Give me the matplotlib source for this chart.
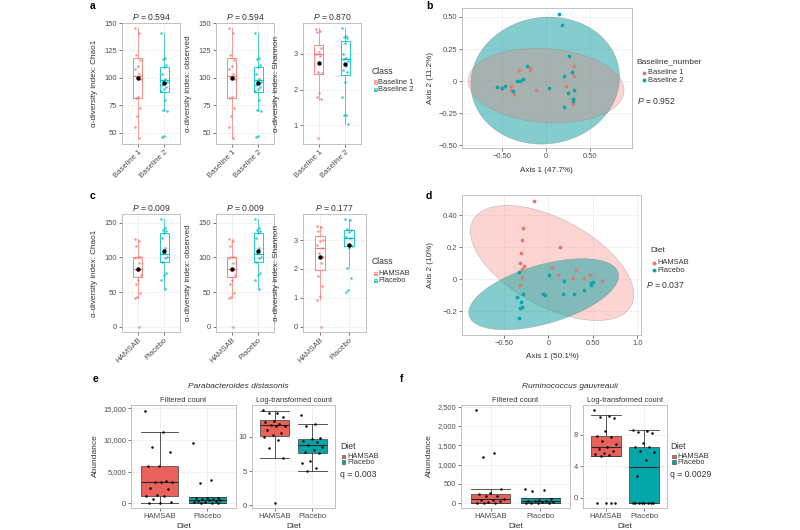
import numpy as np
import matplotlib
matplotlib.use("Agg")
import matplotlib.pyplot as plt
from matplotlib.patches import Rectangle, Polygon

plt.rcParams["font.family"] = ["Liberation Sans", "DejaVu Sans"]
plt.rcParams["mathtext.fontset"] = "custom"
plt.rcParams["mathtext.it"] = "Liberation Sans:italic"
plt.rcParams["mathtext.rm"] = "Liberation Sans"

RED = "#F8766D"
TEAL = "#00BFC4"
RED_PT = "#E07A72"
TEAL_PT = "#0FA6A9"
TEAL_ELL = "#1FA3A6"
RED_FILL = "#E8615B"
TEAL_FILL = "#05A6A8"
TXT = "#333333"
TICK = "#4d4d4d"

# ---- panel a: alpha diversity, baseline 1 vs baseline 2
base_groups = ["Baseline 1", "Baseline 2"]
a_chao_b1 = [145, 141, 121, 116, 111, 108, 104, 101, 99, 83, 82, 73, 65, 55, 45]
a_chao_b2 = [141, 118, 117, 112, 110, 104, 99, 97, 96, 95, 94, 92, 90, 88, 80, 71, 70, 47, 46]
a_chao_box = [(45, 82, 102, 118, 145), (70, 87, 98, 110, 141)]  # whislo, q1, med, q3, whishi
a_chao_mean = [100, 95]
a_shan_b1 = [3.70, 3.65, 3.60, 3.15, 3.05, 3.00, 2.95, 2.50, 2.45, 1.90, 1.80, 1.75, 0.64]
a_shan_b2 = [3.71, 3.50, 3.48, 3.45, 3.30, 3.00, 2.88, 2.85, 2.80, 2.65, 2.55, 2.50, 2.20, 1.80, 1.30, 1.30, 1.05]
a_shan_box = [(1.72, 2.43, 2.99, 3.25, 3.71), (1.03, 2.42, 2.85, 3.36, 3.71)]
a_shan_mean = [2.73, 2.71]
a_pvals = ["0.594", "0.594", "0.870"]

# ---- panel c: alpha diversity, HAMSAB vs placebo
diet_groups = ["HAMSAB", "Placebo"]
c_chao_ham = [127, 124, 116, 101, 100, 99, 92, 82, 75, 68, 61, 49, 43, 42, 0]
c_chao_pla = [155, 142, 140, 138, 135, 128, 113, 106, 101, 99, 94, 78, 75, 67, 55]
c_chao_box = [(42, 72, 83, 100, 127), (55, 93, 105, 135, 155)]
c_chao_mean = [83, 110]
c_shan_ham = [3.49, 3.44, 3.31, 3.02, 2.98, 2.83, 2.71, 2.54, 2.43, 2.20, 1.74, 1.40, 1.05, 0.94, 0.0]
c_shan_pla = [3.72, 3.69, 3.40, 3.35, 3.29, 3.12, 3.06, 2.83, 2.80, 2.71, 2.05, 1.70, 1.26, 1.20]
c_shan_box = [(0.94, 1.98, 2.71, 3.13, 3.49), (2.05, 2.79, 3.06, 3.36, 3.72)]
c_shan_mean = [2.43, 2.83]
c_pvals = ["0.009", "0.009", "0.177"]

# ---- panel b: PCoA baseline
b_b1_x = [-0.31, -0.18, -0.18, 0.31, 0.32, 0.23, -0.40, -0.40, -0.36, -0.11, 0.30, 0.30, 0.30, -0.51]
b_b1_y = [0.085, 0.10, 0.085, 0.115, 0.04, -0.04, -0.04, -0.065, -0.10, -0.07, -0.16, -0.175, -0.14, -0.05]
b_b2_x = [0.15, 0.18, 0.26, -0.22, 0.29, 0.20, -0.26, -0.33, -0.29, -0.55, -0.50, -0.46, -0.37, 0.03,
          0.32, 0.25, 0.30, 0.30, 0.20]
b_b2_y = [0.52, 0.44, 0.20, 0.12, 0.07, 0.04, 0.015, 0.0, 0.0, -0.045, -0.05, -0.04, -0.075, -0.05,
          -0.07, -0.09, -0.135, -0.155, -0.20]
# ellipse: centre x, centre y, conjugate semi-axes (ux, uy), (vx, vy)
b_ell_b1 = (0.0, -0.035, 0.88, -0.035, 0.0, 0.288)
b_ell_b2 = (-0.01, 0.005, 0.84, 0.025, 0.0, 0.494)

# ---- panel d: PCoA diet
d_ham_x = [-0.158, -0.28, -0.30, -0.31, 0.13, -0.32, -0.27, -0.30, 0.045, 0.31, 0.105, -0.30, 0.28,
           0.395, 0.47, 0.60, -0.32]
d_ham_y = [0.49, 0.32, 0.245, 0.16, 0.20, 0.10, 0.083, 0.0625, 0.073, 0.054, 0.023, 0.01, 0.006,
           0.006, 0.027, -0.01, -0.04]
d_pla_x = [-0.33, 0.004, 0.177, 0.50, 0.48, 0.48, -0.29, -0.35, -0.056, -0.038, 0.16, 0.29, 0.40,
           -0.31, -0.30, -0.32, -0.33]
d_pla_y = [0.044, 0.027, -0.015, -0.019, -0.025, -0.04, -0.094, -0.11, -0.092, -0.10, -0.094, -0.094,
           -0.067, -0.144, -0.175, -0.18, -0.244]
d_ell_ham = (0.042, 0.10, 0.918, -0.198, 0.0, 0.30)
d_ell_pla = (-0.053, -0.095, 0.842, 0.115, 0.0, 0.19)

# ---- panel e: Parabacteroides distasonis
e_filt_ham = [14600, 11300, 8800, 8050, 5900, 5850, 3500, 3420, 3400, 3350, 2350, 2200, 1250, 1200,
              1150, 700, 280, 100, 0]
e_filt_pla = [9550, 3650, 3250, 900, 850, 780, 700, 620, 550, 480, 400, 330, 250, 180, 120, 60, 30]
e_filt_box = [(0, 1150, 3300, 5900, 11300), (30, 100, 520, 940, 940)]
e_log_ham = [13.9, 13.5, 13.4, 12.8, 12.3, 12.2, 11.8, 11.7, 11.6, 11.5, 11.0, 10.5, 10.2, 10.0, 9.5,
             8.4, 6.9, 0.3]
e_log_pla = [13.2, 11.8, 11.6, 9.8, 9.6, 9.4, 9.2, 8.8, 8.5, 8.0, 7.7, 7.6, 6.5, 6.2, 5.5, 5.0]
e_log_box = [(6.9, 10.1, 11.65, 12.4, 13.8), (5.0, 7.6, 8.8, 9.6, 11.8)]

# ---- panel f: Ruminococcus gauvreauii
f_filt_ham = [2420, 1300, 1200, 370, 260, 250, 200, 180, 100, 90, 80, 60, 40, 20, 10, 0]
f_filt_pla = [360, 340, 330, 110, 90, 70, 60, 50, 40, 30, 20, 10, 5, 0]
f_filt_box = [(0, 15, 105, 240, 365), (0, 15, 65, 135, 135)]
f_log_ham = [11.2, 10.4, 10.3, 10.2, 8.5, 7.8, 7.7, 7.2, 6.8, 6.4, 6.2, 6.0, 5.7, 5.6, 5.5, 5.3,
             -0.7, -0.7, -0.7, -0.7]
f_log_pla = [8.6, 8.5, 8.4, 8.3, 7.0, 6.5, 6.4, 6.0, 5.8, 4.8, 2.8, -0.7, -0.7, -0.7, -0.7, -0.7,
             -0.7, -0.7, -0.7]
f_log_box = [(5.3, 5.3, 6.4, 7.9, 10.5), (-0.7, -0.7, 3.87, 6.4, 8.56)]

W, H = 800, 530
fig = plt.figure(figsize=(8, 5.3), dpi=100)


def add_ax(l, t, r, b):
    return fig.add_axes([l / W, 1 - b / H, (r - l) / W, (b - t) / H])


def style(ax):
    for s in ax.spines.values():
        s.set_color("#b8b8b8")
        s.set_linewidth(0.6)
    ax.grid(True, color="#ececec", lw=0.5)
    ax.set_axisbelow(True)
    ax.tick_params(length=2, width=0.5, color="#444444", labelsize=5.4, labelcolor=TICK, pad=1.5)


def jitter(n, w):
    # golden-ratio spread so the dots do not stack on one line
    return ((np.arange(n) * 0.618034) % 1 - 0.5) * 2 * w


def box_stats(bx):
    lo, q1, med, q3, hi = bx
    return dict(whislo=lo, q1=q1, med=med, q3=q3, whishi=hi, fliers=[])


def alpha_box(ax, groups, boxes, means, colors, labels, ylim, yticks):
    for i, (vals, bx, m, c) in enumerate(zip(groups, boxes, means, colors)):
        ax.bxp([box_stats(bx)], positions=[i + 1], widths=0.34, showfliers=False, showcaps=False,
               boxprops=dict(color=c, lw=0.6), whiskerprops=dict(color=c, lw=0.6, alpha=0.8),
               medianprops=dict(color=c, lw=0.8), manage_ticks=False)
        ax.scatter(i + 1 + jitter(len(vals), 0.12), vals, s=3.5, color=c, alpha=0.75, lw=0, zorder=3)
        ax.scatter([i + 1], [m], s=10, color="black", lw=0, zorder=4)
    style(ax)
    ax.set_xlim(0.4, 2.6)
    ax.set_ylim(*ylim)
    ax.set_yticks(yticks)
    ax.set_xticks([1, 2])
    ax.set_xticklabels(labels, rotation=45, ha="right", rotation_mode="anchor", fontsize=5.6)


def pcoa(ax, xs_list, ys_list, ells, colors, pt_colors, alphas):
    t = np.linspace(0, 2 * np.pi, 240)
    for (cx, cy, ux, uy, vx, vy), c, a in zip(ells, colors, alphas):
        xy = np.column_stack([cx + ux * np.cos(t) + vx * np.sin(t), cy + uy * np.cos(t) + vy * np.sin(t)])
        ax.add_patch(Polygon(xy, closed=True, fc=c, alpha=a, ec="none"))
        ax.add_patch(Polygon(xy, closed=True, fill=False, ec="#8a8a8a", lw=0.35, alpha=0.6))
    for xs, ys, c in zip(xs_list, ys_list, pt_colors):
        ax.scatter(xs, ys, s=7.5, color=c, lw=0, zorder=3)
    style(ax)


def count_box(ax, groups, boxes, fills, ylim, yticks, yticklabels):
    for i, (vals, bx, fc) in enumerate(zip(groups, boxes, fills)):
        ax.bxp([box_stats(bx)], positions=[i + 1], widths=0.78, showfliers=False, patch_artist=True,
               boxprops=dict(facecolor=fc, edgecolor="#3a3a3a", lw=0.5),
               whiskerprops=dict(color="#3a3a3a", lw=0.6), capprops=dict(color="#3a3a3a", lw=0.6),
               capwidths=0.78, medianprops=dict(color="#2a2a2a", lw=0.8), manage_ticks=False)
        ax.scatter(i + 1 + jitter(len(vals), 0.3), vals, s=3.2, color="black", lw=0, zorder=4)
    style(ax)
    ax.set_xlim(0.4, 2.6)
    ax.set_ylim(*ylim)
    ax.set_yticks(yticks)
    ax.set_yticklabels(yticklabels)
    ax.set_xticks([1, 2])
    ax.set_xticklabels(diet_groups, fontsize=5.6)


# ---- build panels a and c
a_axes = [add_ax(122, 23, 180, 144), add_ax(216, 23, 274, 144), add_ax(303, 23, 361, 144)]
c_axes = [add_ax(122, 214, 180, 332), add_ax(216, 214, 274, 332), add_ax(303, 214, 366, 332)]
ylabels = ["α-diversity index: Chao1", "α-diversity index: observed", "α-diversity index: Shannon"]

alpha_box(a_axes[0], [a_chao_b1, a_chao_b2], a_chao_box, a_chao_mean, [RED, TEAL], base_groups,
          (40, 150), [50, 75, 100, 125, 150])
alpha_box(a_axes[1], [a_chao_b1, a_chao_b2], a_chao_box, a_chao_mean, [RED, TEAL], base_groups,
          (40, 150), [50, 75, 100, 125, 150])
alpha_box(a_axes[2], [a_shan_b1, a_shan_b2], a_shan_box, a_shan_mean, [RED, TEAL], base_groups,
          (0.48, 3.86), [1, 2, 3])
alpha_box(c_axes[0], [c_chao_ham, c_chao_pla], c_chao_box, c_chao_mean, [RED, TEAL], diet_groups,
          (-7.75, 162.75), [0, 50, 100, 150])
alpha_box(c_axes[1], [c_chao_ham, c_chao_pla], c_chao_box, c_chao_mean, [RED, TEAL], diet_groups,
          (-7.75, 162.75), [0, 50, 100, 150])
alpha_box(c_axes[2], [c_shan_ham, c_shan_pla], c_shan_box, c_shan_mean, [RED, TEAL], diet_groups,
          (-0.186, 3.906), [0, 1, 2, 3])

# ---- panels b and d
ax_b = add_ax(462, 8, 632, 148)
pcoa(ax_b, [b_b1_x, b_b2_x], [b_b1_y, b_b2_y], [b_ell_b2, b_ell_b1], [TEAL_ELL, RED], [RED_PT, TEAL_PT],
     [0.55, 0.3])
ax_b.set_xlim(-0.95, 0.97)
ax_b.set_ylim(-0.52, 0.57)
ax_b.set_xticks([-0.5, 0, 0.5])
ax_b.set_xticklabels(["\u22120.50", "0", "0.50"])
ax_b.set_yticks([-0.5, -0.25, 0, 0.25, 0.5])
ax_b.set_yticklabels(["\u22120.50", "\u22120.25", "0", "0.25", "0.50"])

ax_d = add_ax(462, 195, 641, 335)
pcoa(ax_d, [d_ham_x, d_pla_x], [d_ham_y, d_pla_y], [d_ell_ham, d_ell_pla], [RED, TEAL_ELL], [RED_PT, TEAL_PT],
     [0.3, 0.55])
ax_d.set_xlim(-0.97, 1.04)
ax_d.set_ylim(-0.35, 0.525)
ax_d.set_xticks([-0.5, 0, 0.5, 1.0])
ax_d.set_xticklabels(["\u22120.50", "0", "0.50", "1.0"])
ax_d.set_yticks([-0.2, 0, 0.2, 0.4])
ax_d.set_yticklabels(["\u22120.2", "0", "0.2", "0.40"])

# ---- panels e and f
ax_e1 = add_ax(131, 405, 236, 508)
count_box(ax_e1, [e_filt_ham, e_filt_pla], e_filt_box, [RED_FILL, TEAL_FILL], (-740, 15500),
          [0, 5000, 10000, 15000], ["0", "5,000", "10,000", "15,000"])
ax_e2 = add_ax(252, 405, 335, 508)
count_box(ax_e2, [e_log_ham, e_log_pla], e_log_box, [RED_FILL, TEAL_FILL], (-0.37, 14.6),
          [0, 5, 10], ["0", "5", "10"])
ax_f1 = add_ax(461, 405, 570, 508)
count_box(ax_f1, [f_filt_ham, f_filt_pla], f_filt_box, [RED_FILL, TEAL_FILL], (-121, 2541),
          [0, 500, 1000, 1500, 2000, 2500], ["0", "500", "1,000", "1,500", "2,000", "2,500"])
ax_f2 = add_ax(583, 405, 667, 508)
count_box(ax_f2, [f_log_ham, f_log_pla], f_log_box, [RED_FILL, TEAL_FILL], (-1.3, 11.8),
          [0, 4, 8], ["0", "4", "8"])

# ---- overlay for free text and legends (pixel coordinates)
ov = fig.add_axes([0, 0, 1, 1])
ov.set_xlim(0, W)
ov.set_ylim(H, 0)
ov.axis("off")


def txt(x, y, s, size=5.8, **kw):
    kw.setdefault("color", TXT)
    ov.text(x, y, s, fontsize=size, va="center", **kw)


for lab, (x, y) in zip("abcdef", [(90, 6), (426, 6), (90, 196), (426, 196), (93, 379), (400, 379)]):
    txt(x, y, lab, size=7.5, weight="bold", color="black")

for axs, pv, yl in [(a_axes, a_pvals, 83.5), (c_axes, c_pvals, 273)]:
    for ax, p, ylab in zip(axs, pv, ylabels):
        l, b, w, h = ax.get_position().bounds
        cx = (l + w / 2) * W
        top = (1 - (b + h)) * H
        txt(cx, top - 6, "$P$ = " + p, size=6.2, ha="center")
        txt(l * W - 27, yl, ylab, size=5.9, ha="center", rotation=90)

# legends a / c
for (ty, ys, labels) in [(72, [82, 89.5], base_groups), (262, [273.5, 280.5], diet_groups)]:
    txt(372, ty, "Class", size=6.2)
    for yy, lab, c in zip(ys, labels, [RED, TEAL]):
        ov.add_patch(Rectangle((373.5, yy - 1.7), 3.4, 3.4, fill=False, ec=c, lw=0.5))
        ov.plot([373.5, 376.9], [yy, yy], color=c, lw=0.5)
        ov.scatter([375.2], [yy], s=1.5, color=c, lw=0)
        txt(378, yy, lab, size=5.4)

# legend b
txt(636, 62, "Baseline_number", size=6.0)
for yy, lab, c in zip([73, 80], base_groups, [RED_PT, TEAL_PT]):
    ov.scatter([643.5], [yy], s=8, color=c, lw=0)
    txt(647.5, yy, lab, size=5.4)
txt(637, 101, "$P$ = 0.952", size=6.2)
txt(431, 78, "Axis 2 (11.2%)", size=5.9, ha="center", rotation=90)
txt(546, 170.5, "Axis 1 (47.7%)", size=5.9, ha="center")

# legend d
txt(650, 250, "Diet", size=6.0)
for yy, lab, c in zip([262.5, 270], diet_groups, [RED_PT, TEAL_PT]):
    ov.scatter([653.5], [yy], s=8, color=c, lw=0)
    txt(657.5, yy, lab, size=5.4)
txt(646, 285, "$P$ = 0.037", size=6.2)
txt(430, 265, "Axis 2 (10%)", size=5.9, ha="center", rotation=90)
txt(552, 357, "Axis 1 (50.1%)", size=5.9, ha="center")

# e / f text
for ax1, ax2, species, lx, legx, q in [(ax_e1, ax_e2, "Parabacteroides distasonis", 95, 340, "q = 0.003"),
                                        (ax_f1, ax_f2, "Ruminococcus gauvreauii", 429, 670.5, "q = 0.0029")]:
    l1, _, w1, _ = ax1.get_position().bounds
    l2, _, w2, _ = ax2.get_position().bounds
    c1, c2 = (l1 + w1 / 2) * W, (l2 + w2 / 2) * W
    txt((c1 + c2) / 2, 386, species, size=6.0, ha="center", style="italic")
    txt(c1, 400.5, "Filtered count", size=5.4, ha="center")
    txt(c2, 400.5, "Log-transformed count", size=5.4, ha="center")
    txt(c1, 526, "Diet", size=6.0, ha="center")
    txt(c2, 526, "Diet", size=6.0, ha="center")
    txt(lx, 456, "Abundance", size=6.0, ha="center", rotation=90)
    txt(legx, 446.5, "Diet", size=6.2)
    for yy, lab, fc in zip([456.5, 462], diet_groups, [RED_FILL, TEAL_FILL]):
        ov.add_patch(Rectangle((legx + 1.5, yy - 1.8), 3.6, 3.6, fc=fc, ec="#3a3a3a", lw=0.4))
        txt(legx + 7, yy, lab, size=5.4)
    txt(legx, 474.5, q, size=6.2)

fig.savefig("out.png", dpi=100)
